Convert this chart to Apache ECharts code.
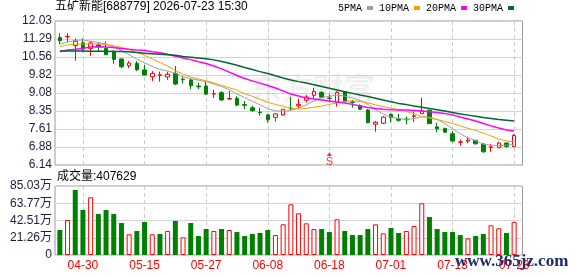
<!DOCTYPE html>
<html><head><meta charset="utf-8">
<script src="https://cdn.jsdelivr.net/npm/echarts@6/dist/echarts.min.js"></script>
<style>html,body{margin:0;padding:0;background:#fff}#c{width:578px;height:276px}</style>
</head><body><div id="c"></div>
<script>
const chartTitle = '五矿新能[688779] 2026-07-23 15:30';
const dates = ['04-27','04-28','04-29','04-30','05-06','05-07','05-08','05-11','05-12','05-13','05-14','05-15','05-18','05-19','05-20','05-21','05-22','05-25','05-26','05-27','05-28','05-29','06-01','06-02','06-03','06-04','06-05','06-08','06-09','06-10','06-11','06-12','06-15','06-16','06-17','06-18','06-22','06-23','06-24','06-25','06-26','06-29','06-30','07-01','07-02','07-03','07-06','07-07','07-08','07-09','07-10','07-13','07-14','07-15','07-16','07-17','07-20','07-21','07-22','07-23'];
const opens  = [11.35,11.38,11.02,11.14,10.91,11.05,10.91,10.77,10.48,10.20,10.30,10.03,9.75,9.80,9.74,9.89,9.65,9.62,9.37,9.37,9.04,9.10,8.84,8.87,8.61,8.48,8.30,8.19,8.09,8.19,8.46,8.56,8.79,8.99,9.11,8.88,8.70,9.14,8.72,8.57,8.39,7.81,7.85,8.21,8.03,8.02,8.13,8.24,8.38,7.70,7.63,7.42,7.07,7.12,7.15,6.99,6.86,6.85,7.04,6.90];
const closes = [11.22,11.40,11.20,10.88,11.13,10.98,10.65,10.46,10.16,10.31,10.04,9.82,9.89,9.83,9.85,9.45,9.63,9.38,9.34,9.04,9.06,8.80,8.86,8.59,8.58,8.36,8.28,7.99,8.23,8.42,8.44,8.62,8.92,9.15,8.92,8.86,9.11,8.73,8.70,8.42,7.87,7.89,8.10,8.07,7.97,7.99,8.15,8.35,7.83,7.62,7.48,7.12,7.09,7.16,7.01,6.68,6.88,7.04,6.90,7.35];
const lows   = [11.08,11.16,10.41,10.75,10.61,10.80,10.64,10.28,10.10,10.10,9.98,9.81,9.58,9.55,9.62,9.41,9.47,9.25,9.25,9.00,8.88,8.76,8.81,8.55,8.42,8.32,8.16,7.87,7.91,8.16,8.37,8.46,8.70,8.87,8.87,8.70,8.53,8.70,8.48,8.39,7.85,7.50,7.81,7.89,7.91,7.80,7.89,8.24,7.83,7.48,7.46,7.07,6.93,7.03,6.97,6.64,6.68,6.82,6.85,6.90];
const highs  = [11.53,11.53,11.32,11.32,11.21,11.16,11.20,10.84,10.48,10.39,10.39,10.23,9.98,9.96,9.96,10.19,9.74,9.69,9.51,9.55,9.21,9.16,9.17,8.96,8.76,8.57,8.48,8.23,8.26,8.43,8.93,8.84,9.00,9.30,9.16,9.03,9.16,9.16,8.80,8.62,8.43,7.94,8.14,8.25,8.23,8.12,8.32,8.89,8.40,7.87,7.67,7.53,7.19,7.30,7.16,7.03,7.00,7.09,7.04,7.41];
const volumes = [308000,431000,801000,555000,711000,505000,555000,505000,394000,255000,296000,407000,255000,259000,296000,419000,218000,394000,234000,320000,296000,320000,308000,283000,234000,259000,271000,308000,246000,378000,625000,514000,390000,320000,320000,283000,440000,296000,246000,246000,320000,378000,267000,333000,271000,296000,357000,637000,468000,320000,283000,283000,246000,205000,234000,259000,366000,329000,271000,407629];
const ma5  = [11.08,11.17,11.24,11.25,11.20,11.15,11.09,10.97,10.82,10.65,10.47,10.32,10.17,10.05,9.98,9.90,9.75,9.67,9.61,9.55,9.45,9.35,9.22,9.04,8.90,8.75,8.60,8.44,8.36,8.33,8.38,8.47,8.60,8.76,8.89,8.95,9.00,8.96,8.88,8.78,8.62,8.40,8.22,8.10,8.04,8.00,8.04,8.11,8.10,8.00,7.83,7.62,7.42,7.25,7.14,6.99,6.95,6.93,6.95,6.98];
const ma10 = [10.98,11.05,11.08,11.09,11.09,11.09,11.07,11.02,10.95,10.86,10.74,10.63,10.48,10.33,10.19,10.00,9.86,9.74,9.66,9.58,9.50,9.40,9.30,9.20,9.06,8.95,8.83,8.70,8.62,8.54,8.47,8.43,8.45,8.51,8.55,8.62,8.68,8.74,8.76,8.74,8.68,8.60,8.53,8.47,8.41,8.33,8.23,8.12,8.06,8.00,7.92,7.84,7.74,7.64,7.55,7.44,7.33,7.20,7.12,7.09];
const ma20 = [10.77,10.84,10.87,10.91,10.97,10.98,10.97,10.95,10.91,10.87,10.84,10.82,10.77,10.73,10.67,10.59,10.52,10.45,10.36,10.29,10.19,10.07,9.94,9.80,9.68,9.58,9.49,9.39,9.29,9.17,9.04,8.96,8.88,8.84,8.80,8.76,8.72,8.68,8.62,8.55,8.49,8.45,8.42,8.40,8.39,8.39,8.37,8.35,8.32,8.29,8.25,8.19,8.10,8.02,7.94,7.84,7.74,7.65,7.57,7.53];
const ma30 = [10.80,10.80,10.80,10.80,10.79,10.79,10.79,10.78,10.78,10.77,10.74,10.71,10.69,10.67,10.65,10.63,10.58,10.55,10.52,10.49,10.44,10.37,10.30,10.22,10.13,10.05,9.96,9.88,9.79,9.70,9.62,9.55,9.49,9.42,9.35,9.28,9.21,9.14,9.07,9.00,8.94,8.87,8.80,8.73,8.66,8.61,8.55,8.50,8.45,8.40,8.35,8.29,8.23,8.18,8.13,8.08,8.04,8.00,7.97,7.94];
const priceTicks = ['6.14','6.88','7.61','8.35','9.08','9.82','10.56','11.29','12.03'];
const volumeTicks = ['0','21.26万','42.51万','63.77万','85.03万'];
const priceMin = 6.14, priceMax = 12.03;
const volumeMax = 850300;
const signalIndex = 35, signalPrice = 6.59, signalText = 'S';
const maNames = ['5PMA','10PMA','20PMA','30PMA'];
const maColors = ['#a0a0a0','#f0a000','#ff00ff','#006633'];
const maWidths = [1,1,1.5,1.5];

const FONT = '"Liberation Sans", "Noto Sans CJK SC", sans-serif';
const priceSteps = priceTicks.length - 1;
const volSteps = volumeTicks.length - 1;
const toU = p => (p - priceMin) / (priceMax - priceMin) * priceSteps;
const showIdx = (idx) => (idx - 3) % 8 === 0;

const candleData = dates.map((d, i) => [toU(opens[i]), toU(closes[i]), toU(lows[i]), toU(highs[i])]);
const volData = volumes.map((v, i) => {
  const up = i === 0 ? closes[i] >= opens[i] : closes[i] >= closes[i - 1];
  return { value: v, itemStyle: up ? { color: '#ffffff', borderColor: '#ff0000', borderWidth: 1 } : { color: '#008000', borderWidth: 0 } };
});
const maSeries = [ma5, ma10, ma20, ma30].map((arr, k) => ({
  name: maNames[k], type: 'line', xAxisIndex: 0, yAxisIndex: 0,
  data: arr.map(toU), symbol: 'none', z: 3,
  lineStyle: { color: maColors[k], width: maWidths[k] }, itemStyle: { color: maColors[k] }
}));

const dataGridPrice = { left: 59.85, top: 21, width: 454.3, height: 144 };
const dataGridVol = { left: 59.85, top: 186, width: 454.3, height: 69 };
const frameGridPrice = { left: 55, top: 21, width: 467.5, height: 144, show: true, borderColor: '#999', borderWidth: 1 };
const frameGridVol = { left: 55, top: 186, width: 467.5, height: 69, show: true, borderColor: '#999', borderWidth: 1 };

const catAxis = (gridIndex, labels) => ({
  type: 'category', gridIndex, data: dates, boundaryGap: false,
  axisLine: { show: false }, axisTick: { show: false },
  axisLabel: { show: labels, interval: showIdx, color: '#ff0000', fontSize: 12, margin: 5, fontFamily: FONT },
  splitLine: { show: true, interval: showIdx, lineStyle: { color: '#cccccc', width: 1, type: [4, 3] } }
});
const hiddenX = (gridIndex) => ({ type: 'value', gridIndex, show: false, min: 0, max: 1, splitLine: { show: false } });

const chart = echarts.init(document.getElementById('c'));
chart.setOption({
  animation: false,
  backgroundColor: '#ffffff',
  title: [
    { text: chartTitle, left: 55, top: 1, padding: 0, textStyle: { fontSize: 12, fontWeight: 'normal', color: '#000', fontFamily: FONT } },
    { text: '成交量:' + volumes[volumes.length - 1], left: 57, top: 171, padding: 0, textStyle: { fontSize: 12, fontWeight: 'normal', color: '#000', fontFamily: FONT } }
  ],
  legend: {
    data: maNames, left: 338, top: 3, padding: 0, align: 'right', icon: 'rect',
    itemWidth: 6, itemHeight: 4, itemGap: 6,
    textStyle: { fontSize: 10, color: '#000', fontFamily: '"Liberation Mono", monospace' }
  },
  grid: [dataGridPrice, dataGridVol, frameGridPrice, frameGridVol],
  xAxis: [catAxis(0, false), catAxis(1, true), hiddenX(2), hiddenX(3)],
  yAxis: [
    { type: 'value', gridIndex: 0, show: false, min: 0, max: priceSteps, splitLine: { show: false } },
    { type: 'value', gridIndex: 1, show: false, min: 0, max: volumeMax, splitLine: { show: false } },
    { type: 'value', gridIndex: 2, min: 0, max: priceSteps, interval: 1,
      axisLine: { show: false }, axisTick: { show: false },
      axisLabel: { formatter: (v) => priceTicks[Math.round(v)], color: '#1c1c3c', fontSize: 12, margin: 3, fontFamily: FONT },
      splitLine: { lineStyle: { color: '#d3d3d3', width: 1 } } },
    { type: 'value', gridIndex: 3, min: 0, max: volSteps, interval: 1,
      axisLine: { show: false }, axisTick: { show: false },
      axisLabel: { formatter: (v) => volumeTicks[Math.round(v)], color: '#1c1c3c', fontSize: 12, margin: 3, fontFamily: FONT },
      splitLine: { lineStyle: { color: '#d3d3d3', width: 1 } } }
  ],
  graphic: [
    { type: 'text', left: 251, top: 73, z: 0, silent: true, style: { text: '东方财富', font: 'bold 31px "Noto Sans CJK SC"', fill: 'rgba(0,0,0,0.06)' } },
    { type: 'text', left: 455, top: 253, z: 100, silent: true, style: { text: 'www.365jz.com', font: 'bold 17px "Liberation Serif"', fill: '#1f2d6a' } }
  ],
  series: [
    { type: 'candlestick', xAxisIndex: 0, yAxisIndex: 0, data: candleData, barWidth: 4, clip: false, z: 2,
      itemStyle: { color: '#ffffff', color0: '#008000', borderColor: '#ff0000', borderColor0: '#008000', borderWidth: 1 } },
    ...maSeries,
    { type: 'scatter', xAxisIndex: 0, yAxisIndex: 0, data: [[signalIndex, toU(signalPrice)]],
      symbol: 'triangle', symbolSize: [5, 4], itemStyle: { color: '#ff0000' }, z: 4,
      label: { show: true, formatter: signalText, position: 'bottom', distance: 0, color: '#ff0000', fontSize: 11, fontFamily: FONT } },
    { type: 'bar', xAxisIndex: 1, yAxisIndex: 1, data: volData, barWidth: 5, clip: false }
  ]
});
</script></body></html>
